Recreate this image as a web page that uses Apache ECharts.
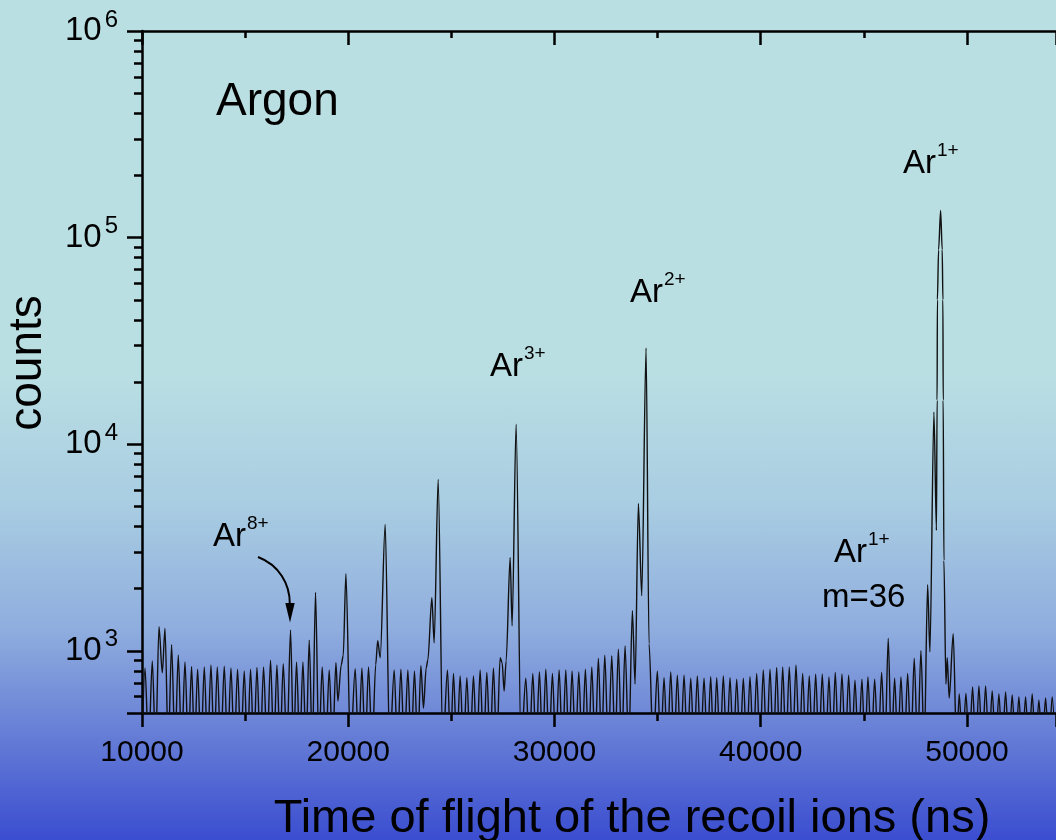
<!DOCTYPE html>
<html>
<head>
<meta charset="utf-8">
<script src="https://cdn.jsdelivr.net/npm/echarts@6/dist/echarts.min.js"></script>
<style>
  html, body { margin: 0; padding: 0; }
  #chart {
    width: 1056px; height: 840px;
    background: linear-gradient(to bottom, #badfe3 0%, #badfe3 44%, #a9cde2 60%, #8fadde 75%, #6e87d7 85%, #3b4dd0 100%);
  }
</style>
</head>
<body>
<div id="chart"></div>
<script>
// time of flight (ns) and counts, troughs dip below the axis floor
const tofNs = [
  10000, 10145, 10320, 10499, 10660, 10824, 10984, 11115, 11275, 11435, 11600, 11759, 11920, 12084, 12245, 12404,
  12550, 12695, 12860, 13020, 13180, 13344, 13500, 13650, 13820, 13989, 14150, 14314, 14475, 14634, 14795, 14958,
  15110, 15264, 15420, 15574, 15735, 15894, 16065, 16233, 16390, 16543, 16695, 16849, 17025, 17203, 17350, 17493,
  17650, 17803, 17955, 18109, 18260, 18414, 18575, 18739, 18910, 19078, 19240, 19403, 19500, 19660, 19757, 19888,
  20110, 20338, 20500, 20663, 20825, 20983, 21160, 21332, 21429, 21550, 21792, 22010, 22229, 22390, 22553, 22720,
  22892, 23050, 23213, 23370, 23522, 23649, 23779, 23862, 24055, 24167, 24361, 24590, 24812, 24960, 25103, 25265,
  25427, 25590, 25752, 25910, 26072, 26235, 26396, 26560, 26721, 26880, 27041, 27200, 27366, 27463, 27560, 27657,
  27851, 27947, 28141, 28380, 28611, 28780, 28951, 29110, 29271, 29425, 29581, 29740, 29901, 30065, 30226, 30390,
  30550, 30700, 30855, 31020, 31180, 31340, 31500, 31655, 31810, 31970, 32130, 32285, 32440, 32610, 32779, 32940,
  33099, 33260, 33424, 33600, 33778, 33909, 34069, 34233, 34442, 34587, 34790, 34990, 35150, 35314, 35475, 35639,
  35800, 35959, 36120, 36284, 36445, 36609, 36770, 36928, 37090, 37253, 37415, 37577, 37720, 37868, 38030, 38188,
  38350, 38513, 38675, 38838, 39000, 39158, 39320, 39482, 39645, 39807, 39965, 40127, 40290, 40452, 40615, 40776,
  40920, 41067, 41225, 41387, 41550, 41712, 41875, 42036, 42195, 42356, 42510, 42666, 42825, 42986, 43150, 43311,
  43465, 43616, 43780, 43941, 44105, 44266, 44420, 44571, 44740, 44910, 45055, 45201, 45365, 45526, 45695, 45865,
  46025, 46185, 46340, 46495, 46650, 46801, 46965, 47126, 47285, 47445, 47610, 47770, 47930, 48095, 48206, 48400,
  48522, 48555, 48569, 48627, 48725, 48802, 48836, 48850, 48885, 48982, 49045, 49142, 49336, 49500, 49627, 49790,
  49952, 50110, 50275, 50430, 50582, 50745, 50906, 51065, 51226, 51390, 51551, 51710, 51876, 52035, 52196, 52360,
  52520, 52680, 52845, 53005, 53165, 53330, 53490, 53650, 53815, 53975, 54134, 54290
];
const counts = [
  330, 825, 330, 894, 330, 1307, 782, 1283, 330, 1069, 330, 956, 330, 884, 330, 839,
  330, 815, 330, 836, 330, 853, 330, 836, 330, 843, 330, 825, 330, 815, 330, 800,
  330, 815, 330, 830, 330, 836, 330, 901, 330, 855, 330, 867, 330, 1260, 330, 884,
  330, 884, 330, 1127, 330, 1918, 330, 836, 330, 808, 330, 875, 572, 855, 946, 2364,
  330, 820, 330, 825, 330, 836, 330, 855, 1118, 925, 4089, 330, 808, 330, 815, 330,
  808, 330, 800, 330, 846, 529, 827, 904, 1808, 1093, 6760, 330, 808, 330, 776, 330,
  756, 330, 742, 330, 756, 330, 808, 330, 785, 330, 825, 330, 925, 875, 639, 894,
  2828, 1322, 12500, 330, 737, 330, 776, 330, 793, 330, 815, 330, 776, 330, 808, 330,
  808, 330, 800, 330, 791, 330, 815, 330, 836, 330, 922, 330, 953, 330, 946, 330,
  1019, 330, 1057, 330, 1564, 691, 5171, 1849, 29200, 1081, 330, 800, 330, 742, 330, 791,
  330, 763, 330, 763, 330, 737, 330, 756, 330, 737, 330, 750, 330, 742, 330, 756,
  330, 742, 330, 729, 330, 737, 330, 750, 330, 776, 330, 808, 330, 815, 330, 830,
  330, 836, 330, 836, 330, 853, 330, 776, 330, 756, 330, 770, 330, 770, 330, 748,
  330, 785, 330, 770, 330, 763, 330, 720, 330, 729, 330, 748, 330, 729, 330, 785,
  330, 1152, 330, 737, 330, 748, 330, 776, 330, 922, 330, 1000, 330, 2091, 989, 14300,
  3824, 16350, 50000, 87400, 135300, 87400, 50000, 16350, 2735, 691, 925, 591, 1209, 330, 618, 330,
  621, 330, 668, 330, 676, 330, 676, 330, 639, 330, 618, 330, 632, 330, 612, 330,
  598, 330, 598, 330, 618, 330, 579, 330, 591, 330, 598, 330
];
const xTicks = [10000, 20000, 30000, 40000, 50000];
const yMajor = [500, 1000, 10000, 100000, 1000000];
const yLabels = [1000, 10000, 100000, 1000000];
const yMinor = [600, 700, 800, 900, 2000, 3000, 4000, 5000, 6000, 7000, 8000, 9000,
  20000, 30000, 40000, 50000, 60000, 70000, 80000, 90000,
  200000, 300000, 400000, 500000, 600000, 700000, 800000, 900000];

const FONT = '"Liberation Sans", Arial, sans-serif';
const chart = echarts.init(document.getElementById('chart'));

function txt(text, x, y, size, extra) {
  return Object.assign({
    type: 'text', x: x, y: y, z: 50,
    style: { text: text, fill: '#000', font: size + 'px ' + FONT, align: 'left', verticalAlign: 'middle' }
  }, extra || {});
}
function ion(x, y, sup) {
  return [txt('Ar', x, y, 33), txt(sup, x + 34, y - 13, 19)];
}

const axisLine = { show: true, lineStyle: { color: '#000', width: 2.5 } };

chart.setOption({
  backgroundColor: 'transparent',
  animation: false,
  grid: { left: 142, top: 31, right: 0, height: 682 },
  xAxis: [{
    type: 'value', position: 'bottom', min: 10000, max: 54320, interval: 10000,
    axisLine: axisLine,
    axisTick: { show: true, length: 14, lineStyle: { color: '#000', width: 2.5 } },
    minorTick: { show: true, splitNumber: 2, length: 8, lineStyle: { color: '#000', width: 2.5 } },
    axisLabel: { color: '#000', fontSize: 30, fontFamily: FONT, margin: 25,
      customValues: xTicks, formatter: v => String(v) },
    splitLine: { show: false }
  }, {
    type: 'value', position: 'top', min: 10000, max: 54320, interval: 10000,
    axisLine: axisLine,
    axisTick: { show: true, inside: true, length: 14, lineStyle: { color: '#000', width: 2.5 } },
    minorTick: { show: true, splitNumber: 2, length: 7, lineStyle: { color: '#000', width: 2.5 } },
    axisLabel: { show: false },
    splitLine: { show: false }
  }],
  yAxis: [{
    type: 'log', logBase: 10, min: 500, max: 1000000, position: 'left',
    axisLine: axisLine,
    axisTick: { show: true, length: 15, customValues: yMajor, lineStyle: { color: '#000', width: 2.5 } },
    axisLabel: {
      customValues: yLabels, margin: 24, color: '#000',
      formatter: function (v) {
        return '{b|10}{s|' + Math.round(Math.log10(v)) + '}';
      },
      rich: {
        b: { fontSize: 33, fontFamily: FONT, color: '#000', lineHeight: 46 },
        s: { fontSize: 24, fontFamily: FONT, color: '#000', lineHeight: 24, verticalAlign: 'top', padding: [0, 0, 0, 3] }
      }
    },
    splitLine: { show: false }
  }, {
    type: 'log', logBase: 10, min: 500, max: 1000000, position: 'left',
    axisLine: { show: false },
    axisTick: { show: true, length: 8, customValues: yMinor, lineStyle: { color: '#000', width: 2.5 } },
    axisLabel: { show: false },
    splitLine: { show: false }
  }],
  graphic: [
    txt('Argon', 216, 102, 46),
    ...ion(903, 164, '1+'),
    ...ion(630, 293, '2+'),
    ...ion(490, 367, '3+'),
    ...ion(213, 537, '8+'),
    ...ion(834, 553, '1+'),
    txt('m=36', 822, 598, 33),
    txt('counts', 28, 363, 46, { rotation: Math.PI / 2, style: { text: 'counts', fill: '#000', font: '46px ' + FONT, align: 'center', verticalAlign: 'middle' } }),
    txt('Time of flight of the recoil ions (ns)', 632, 819, 47, { style: { text: 'Time of flight of the recoil ions (ns)', fill: '#000', font: '47px ' + FONT, align: 'center', verticalAlign: 'middle' } }),
    {
      type: 'bezierCurve', z: 50,
      shape: { x1: 258, y1: 557, x2: 289.8, y2: 604, cpx1: 279, cpy1: 565, cpx2: 290, cpy2: 584 },
      style: { stroke: '#000', lineWidth: 2, fill: null }
    },
    {
      type: 'polygon', z: 50,
      shape: { points: [[285.3, 603], [294.7, 603], [290, 622.5]] },
      style: { fill: '#000' }
    }
  ],
  series: [{
    type: 'line',
    xAxisIndex: 0, yAxisIndex: 0,
    data: tofNs.map((t, i) => [t, counts[i]]),
    showSymbol: false, clip: true,
    smooth: 0.3, smoothMonotone: 'x',
    lineStyle: { color: '#111', width: 1.4 },
    z: 3
  }]
});
</script>
</body>
</html>
